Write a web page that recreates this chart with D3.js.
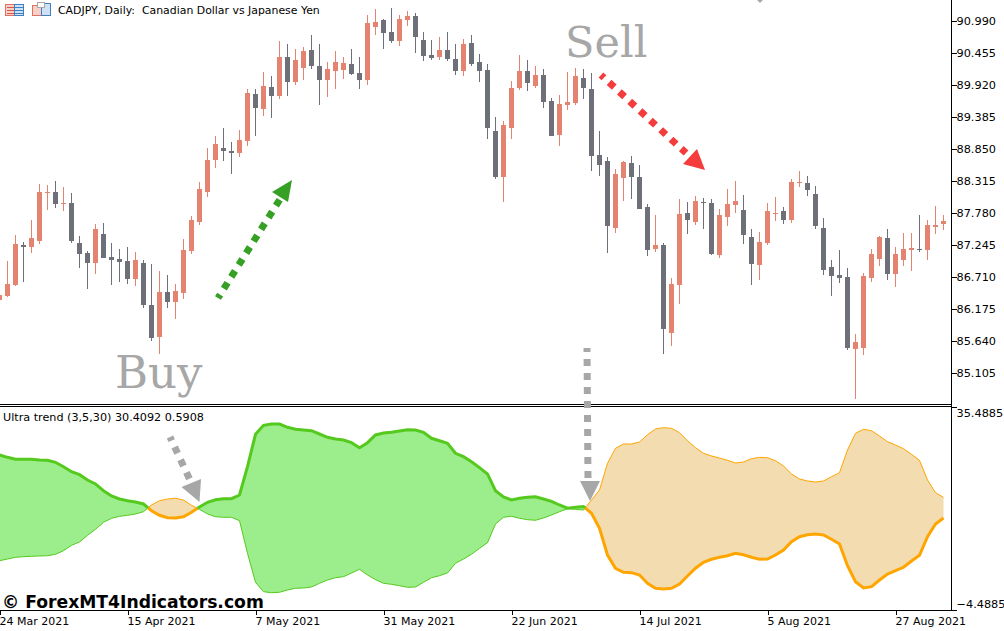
<!DOCTYPE html>
<html>
<head>
<meta charset="utf-8">
<title>CADJPY, Daily</title>
<script src="https://cdnjs.cloudflare.com/ajax/libs/d3/7.8.5/d3.min.js"></script>
<style>
  html, body { margin: 0; padding: 0; background: #fff; overflow: hidden; }
  svg { display: block; }
  text { font-family: "DejaVu Sans", sans-serif; fill: #000; white-space: pre; }
</style>
</head>
<body>
<div id="chart"></div>
<script>
// Свечи: цены читались с картинки, шаг баров 8 px
const opens = [86.325,86.392,86.576,87.245,87.211,87.312,88.114,88.131,87.930,87.947,87.278,87.111,86.944,87.428,87.044,87.010,86.977,86.676,86.944,86.241,85.706,86.459,86.292,86.442,87.144,87.629,88.131,88.666,88.866,88.816,88.783,88.983,89.769,89.519,89.886,89.736,90.388,89.970,90.204,90.505,90.237,
  90.003,90.154,90.171,90.271,90.120,90.003,90.890,91.007,90.806,90.656,91.007,91.073,90.672,90.421,90.388,90.505,90.354,90.154,90.622,90.304,90.171,89.151,88.382,89.201,89.870,90.154,89.903,90.087,89.652,89.084,89.585,89.619,90.037,89.853,88.749,88.649,87.529,88.365,88.616,88.382,87.880,87.178,87.245,85.773,86.576,87.780,87.629,87.964,87.947,87.077,87.713,87.913,87.830,87.378,86.910,87.278,87.763,87.813,87.663,88.281,88.281,88.097,87.529,86.877,86.743,86.710,85.506,85.522,86.693,87.010,87.362,86.760,86.994,87.161,87.178,87.161,87.545,87.596];
const highs = [86.609,86.977,87.412,87.295,87.663,88.265,88.248,88.315,88.214,88.114,87.395,87.144,87.596,87.612,87.278,87.178,87.211,87.128,86.994,86.927,86.810,86.743,86.593,87.345,87.729,88.298,88.866,89.067,89.201,88.967,89.167,89.853,89.853,90.137,90.070,90.656,90.605,90.522,90.555,90.756,90.605,
  90.304,90.488,90.388,90.522,90.388,91.090,91.190,91.023,91.207,91.090,91.157,91.124,90.806,90.672,90.722,90.806,90.605,90.689,90.756,90.438,90.271,89.385,89.318,89.987,90.421,90.338,90.237,90.187,89.702,89.753,90.137,90.204,90.187,90.120,89.151,88.716,88.515,88.649,88.733,88.582,87.930,87.746,87.278,86.693,88.014,87.964,88.064,88.030,88.014,87.846,88.181,88.315,88.081,87.512,87.462,87.947,88.047,87.880,88.348,88.482,88.398,88.231,87.696,86.994,87.161,86.860,85.757,86.777,87.178,87.395,87.512,87.211,87.445,87.445,87.746,87.663,87.897,87.746];
const lows = [86.325,86.375,86.559,86.626,87.111,87.261,87.830,87.863,87.813,87.278,86.860,86.509,86.760,87.027,86.576,86.626,86.593,86.559,86.191,85.639,85.422,86.191,86.007,86.342,87.094,87.579,88.047,88.532,88.649,88.432,88.716,88.900,89.067,89.401,89.368,89.686,89.736,89.920,90.003,90.187,89.585,
  89.719,89.853,90.020,90.087,89.853,89.920,90.756,90.522,90.622,90.572,90.906,90.455,90.321,90.338,90.338,90.321,90.087,90.070,90.237,89.970,89.017,88.348,87.964,89.017,89.836,89.820,89.870,89.535,89.067,88.900,89.502,89.585,89.686,88.482,88.398,87.111,87.445,87.980,88.014,87.846,87.061,87.128,85.422,85.556,86.258,87.428,87.579,87.512,87.077,87.027,87.562,87.780,87.261,86.576,86.659,87.245,87.646,87.596,87.612,88.214,88.064,87.512,86.743,86.392,86.609,85.489,84.670,85.405,86.626,86.893,86.659,86.542,86.893,86.810,87.128,86.994,87.428,87.495];
const closes = [86.409,86.593,87.261,87.211,87.362,88.131,88.131,87.930,87.947,87.312,87.094,86.944,87.512,87.027,86.994,86.960,86.676,86.994,86.241,85.690,86.459,86.292,86.475,87.161,87.663,88.181,88.666,88.933,88.816,88.783,89.000,89.786,89.535,89.903,89.736,90.388,89.970,90.338,90.488,90.237,90.003,
  90.187,90.304,90.288,90.104,90.003,90.956,90.973,90.789,90.656,91.023,91.073,90.722,90.405,90.371,90.505,90.354,90.154,90.605,90.271,90.154,89.201,88.382,89.251,89.870,90.154,89.953,90.087,89.636,89.067,89.602,89.636,90.070,89.870,88.733,88.582,87.562,88.432,88.632,88.382,87.846,87.161,87.245,85.840,86.593,87.763,87.663,87.980,87.947,87.094,87.746,87.930,87.980,87.412,86.927,87.295,87.813,87.780,87.663,88.298,88.298,88.164,87.562,86.827,86.726,86.693,85.522,85.623,86.726,87.094,87.378,86.760,87.094,87.178,87.194,87.161,87.579,87.579,87.646];

// Индикатор Ultra trend: толстая и тонкая линии
const thickLine = [26.04,25.58,25.19,25.19,25.19,25.05,24.99,24.60,23.73,22.75,22.16,21.11,20.33,19.01,17.96,17.37,17.04,16.78,16.39,15.07,14.16,13.69,13.63,13.88,14.75,15.80,16.72,17.23,17.43,17.43,18.16,23.73,30.11,31.89,32.14,32.14,31.49,31.10,30.96,30.82,30.17,29.52,
  29.19,28.99,28.46,27.47,28.46,29.98,30.37,30.51,30.76,31.02,30.96,30.51,29.33,28.85,28.34,26.37,25.70,24.72,23.54,22.30,19.01,17.77,17.17,17.51,17.71,17.82,17.37,16.92,16.19,15.56,15.74,15.90,14.56,11.60,6.34,3.73,2.94,2.86,2.40,0.77,-0.21,
  -0.35,-0.21,0.63,2.21,3.73,4.91,5.50,5.89,6.20,6.68,6.40,5.89,5.50,5.56,6.34,7.33,8.96,9.95,10.34,10.48,10.28,9.44,8.51,4.24,1.09,-0.16,0.10,1.42,2.60,3.25,3.92,5.16,6.28,9.95,12.45,13.63];
const thinLine = [5.22,5.55,5.89,6.01,6.09,6.15,6.20,6.48,7.19,8.25,8.90,10.22,11.40,12.78,13.57,13.96,14.16,14.42,14.87,16.19,17.04,17.37,17.51,17.17,16.13,15.34,14.42,13.88,13.77,13.77,13.10,6.68,0.97,-0.88,-1.08,-1.00,-0.55,-0.21,-0.16,0.04,0.77,1.42,
  1.87,2.07,2.80,3.53,2.40,1.48,0.77,0.57,0.30,-0.02,0.04,0.97,1.87,2.27,2.80,4.71,5.55,6.48,7.66,8.77,12.45,13.77,13.97,13.57,13.30,13.18,13.63,14.22,14.87,15.44,15.34,15.21,17.17,19.14,24.40,27.36,28.20,28.20,28.60,30.03,31.16,
  31.42,31.30,30.43,28.85,27.47,26.37,25.84,25.44,24.99,24.46,24.66,25.31,25.58,25.50,24.91,23.87,22.30,21.31,20.92,20.72,20.92,21.76,22.55,27.02,30.31,31.10,30.82,29.78,28.66,28.01,27.28,26.17,24.99,21.11,18.61,17.70];

// Подписи осей
const priceTicks = [90.990,90.455,89.920,89.385,88.850,88.315,87.780,87.245,86.710,86.175,85.640,85.105];
const indTicks = [35.4885,-4.4885];
const dateTicks = [0,16,32,48,64,80,96,112];
const dateLabels = ["24 Mar 2021","15 Apr 2021","7 May 2021","31 May 2021","22 Jun 2021","14 Jul 2021","5 Aug 2021","27 Aug 2021"];

const width = 1004, height = 631;
const plotRight = 951.5, mainBottom = 404, indTop = 407, indBottom = 610;

const svg = d3.select("#chart").append("svg").attr("width", width).attr("height", height);

const x = d3.scaleLinear().domain([0, 118]).range([-0.5, 943.5]);
const y = d3.scaleLinear().domain([91.341, 84.586]).range([0, mainBottom]);
const yInd = d3.scaleLinear().domain([35.4885, -4.4885]).range([indTop, indBottom]);

// Свечи
const upColor = "#e4836f", downColor = "#6d7079";
const candles = svg.append("g").attr("shape-rendering", "crispEdges")
  .selectAll("g").data(opens.map((o, i) => i)).enter().append("g")
  .attr("fill", i => closes[i] >= opens[i] ? upColor : downColor);

candles.append("rect")
  .attr("x", i => x(i) - 0.5).attr("width", 1)
  .attr("y", i => y(highs[i]))
  .attr("height", i => y(lows[i]) - y(highs[i]));

candles.append("rect")
  .attr("x", i => x(i) - 2.5).attr("width", 5)
  .attr("y", i => y(Math.max(opens[i], closes[i])))
  .attr("height", i => Math.max(1, y(Math.min(opens[i], closes[i])) - y(Math.max(opens[i], closes[i]))));

// Участки индикатора: разбиваем в точках пересечения линий
const runs = [];
let run = [{ i: 0, a: thickLine[0], b: thinLine[0] }];
for (let i = 1; i < thickLine.length; i++) {
  const d0 = thickLine[i - 1] - thinLine[i - 1];
  const d1 = thickLine[i] - thinLine[i];
  if (d0 * d1 < 0) {
    const t = d0 / (d0 - d1);
    const v = thickLine[i - 1] + t * (thickLine[i] - thickLine[i - 1]);
    run.push({ i: i - 1 + t, a: v, b: v });
    runs.push(run);
    run = [{ i: i - 1 + t, a: v, b: v }];
  }
  run.push({ i: i, a: thickLine[i], b: thinLine[i] });
}
runs.push(run);

const area = d3.area().x(d => x(d.i)).y0(d => yInd(d.a)).y1(d => yInd(d.b));
const lineA = d3.line().x(d => x(d.i)).y(d => yInd(d.a));
const lineB = d3.line().x(d => x(d.i)).y(d => yInd(d.b));
const isGreen = r => r.some(d => d.a > d.b);

const ind = svg.append("g");
ind.selectAll(".fill").data(runs).enter().append("path")
  .attr("d", area).attr("fill", r => isGreen(r) ? "#9bee8b" : "#f2dcb0");
ind.selectAll(".thin").data(runs).enter().append("path")
  .attr("d", lineB).attr("fill", "none").attr("stroke-width", 1)
  .attr("stroke", r => isGreen(r) ? "#55c91e" : "#ffa500");
ind.selectAll(".thick").data(runs).enter().append("path")
  .attr("d", lineA).attr("fill", "none").attr("stroke-width", 3)
  .attr("stroke", r => isGreen(r) ? "#55c91e" : "#ffa500");

// Оси
function styleAxis(g, size) {
  g.selectAll(".domain").remove();
  g.selectAll("line").attr("stroke", "#000").attr("shape-rendering", "crispEdges");
  g.selectAll("text").style("font-family", '"DejaVu Sans", sans-serif').style("font-size", size + "px").attr("fill", "#000");
}

const axisPrice = d3.axisRight(y).tickValues(priceTicks).tickFormat(d3.format(".3f")).tickSize(5).tickPadding(0);
svg.append("g").attr("transform", `translate(${plotRight},0)`).call(axisPrice).call(styleAxis, 11.3);

const axisInd = d3.axisRight(yInd).tickValues(indTicks).tickFormat(d3.format(".4f")).tickSize(5).tickPadding(0);
const indAxisG = svg.append("g").attr("transform", `translate(${plotRight},0)`).call(axisInd).call(styleAxis, 11.3);
indAxisG.selectAll("text").attr("y", d => d > 0 ? 6 : -6);

const axisDate = d3.axisBottom(x).tickValues(dateTicks).tickFormat((d, i) => dateLabels[i]).tickSize(5).tickPadding(2);
const dateG = svg.append("g").attr("transform", `translate(0,${indBottom})`).call(axisDate).call(styleAxis, 11);
dateG.selectAll("text").attr("text-anchor", "start").attr("dx", -0.5);

// Рамка и разделитель панелей
const frame = svg.append("g").attr("stroke", "#000").attr("shape-rendering", "crispEdges");
frame.append("line").attr("x1", plotRight).attr("x2", plotRight).attr("y1", 0).attr("y2", indBottom);
frame.append("line").attr("x1", 0).attr("x2", plotRight).attr("y1", mainBottom + 0.5).attr("y2", mainBottom + 0.5);
frame.append("line").attr("x1", 0).attr("x2", plotRight).attr("y1", indTop - 0.5).attr("y2", indTop - 0.5);
frame.append("line").attr("x1", 0).attr("x2", plotRight).attr("y1", indBottom + 0.5).attr("y2", indBottom + 0.5);

// Заголовок, иконки
svg.append("text").attr("x", 58).attr("y", 14).style("font-size", "10.9px")
  .text("CADJPY, Daily:  Canadian Dollar vs Japanese Yen");
svg.append("text").attr("x", 3).attr("y", 421).style("font-size", "11.2px")
  .text("Ultra trend (3,5,30) 30.4092 0.5908");

const icons = svg.append("g").attr("shape-rendering", "crispEdges");
icons.append("rect").attr("x", 5.5).attr("y", 4.5).attr("width", 9).attr("height", 11).attr("fill", "#f8d0c8").attr("stroke", "#e0705f");
icons.append("rect").attr("x", 14.5).attr("y", 4.5).attr("width", 9).attr("height", 11).attr("fill", "#cfe2f5").attr("stroke", "#3f80c0");
[7, 10, 13].forEach(v => {
  icons.append("rect").attr("x", 7).attr("y", v).attr("width", 7).attr("height", 1).attr("fill", "#d9534a");
  icons.append("rect").attr("x", 15).attr("y", v).attr("width", 8).attr("height", 1).attr("fill", "#3f80c0");
});
icons.append("rect").attr("x", 32.5).attr("y", 5.5).attr("width", 9).attr("height", 10).attr("fill", "#f8d0c8").attr("stroke", "#e0705f");
icons.append("rect").attr("x", 41.5).attr("y", 3.5).attr("width", 9).attr("height", 12).attr("fill", "#cfe2f5").attr("stroke", "#3f80c0");
icons.append("rect").attr("x", 37.5).attr("y", 2.5).attr("width", 7).attr("height", 5).attr("fill", "#fff").attr("stroke", "#a8a8a8");

// Надписи и пунктирные стрелки поверх графика
const gray = "#a7a7a7";
svg.append("text").attr("x", 115).attr("y", 388).style("font-family", '"DejaVu Serif", serif')
  .style("font-size", "45px").style("fill", gray).text("Buy");
svg.append("text").attr("x", 565).attr("y", 57).style("font-family", '"DejaVu Serif", serif')
  .style("font-size", "43px").style("fill", gray).text("Sell");

const arrows = [
  { from: [218, 298], to: [282, 196], head: [[292, 180], [272, 192], [288, 202]], color: "#36a024", width: 7 },
  { from: [601, 75], to: [686, 153], head: [[705, 170], [683, 164], [697, 149]], color: "#f43c3c", width: 7 },
  { from: [170, 437], to: [190, 480], head: [[199.5, 502], [181.5, 487], [201, 479]], color: gray, width: 7 },
  { from: [587, 348], to: [588, 481], head: [[590, 501], [580, 481], [600, 481]], color: gray, width: 7 }
];
const arrowG = svg.append("g");
arrowG.selectAll("line").data(arrows).enter().append("line")
  .attr("x1", d => d.from[0]).attr("y1", d => d.from[1])
  .attr("x2", d => d.to[0]).attr("y2", d => d.to[1])
  .attr("stroke", d => d.color).attr("stroke-width", d => d.width)
  .attr("stroke-dasharray", "7 7").attr("stroke-dashoffset", 3);
arrowG.selectAll("polygon").data(arrows).enter().append("polygon")
  .attr("points", d => d.head.join(" ")).attr("fill", d => d.color);
// кончик стрелки, обрезанной верхним краем
arrowG.append("polygon").attr("points", "757,0 763,0 760,3").attr("fill", gray);

// Водяной знак
svg.append("text").attr("x", 2).attr("y", 608)
  .style("font-family", '"DejaVu Sans", sans-serif').style("font-weight", "bold").style("font-size", "17.2px")
  .text("© ForexMT4Indicators.com");
</script>
</body>
</html>
